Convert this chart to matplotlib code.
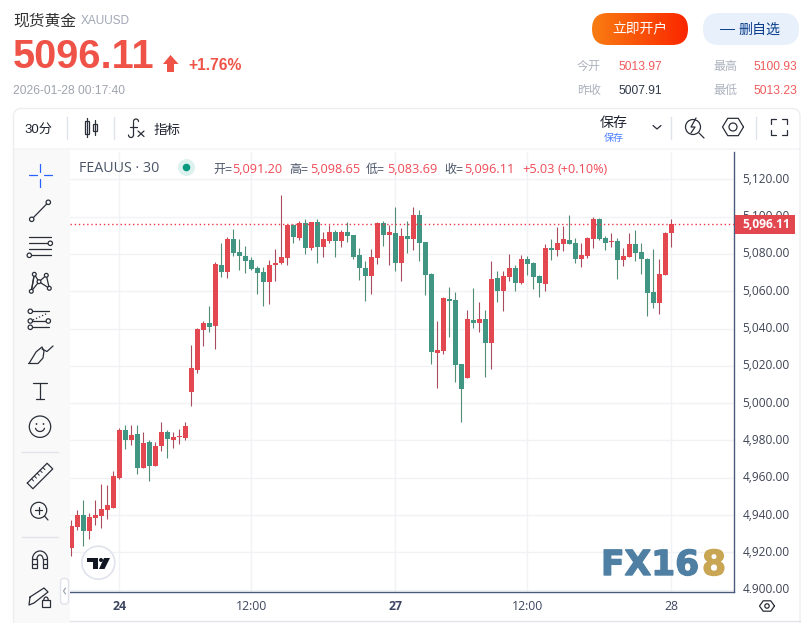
import numpy as np
import matplotlib
matplotlib.use("Agg")
import matplotlib.pyplot as plt
import matplotlib.patheffects as pe
from matplotlib.patches import Circle, FancyBboxPatch, Polygon, Rectangle
from matplotlib.transforms import ScaledTranslation

plt.rcParams['font.family'] = ['Liberation Sans', 'Noto Sans CJK SC', 'DejaVu Sans']

# 30 minute candles
opens = [4922.5, 4933.6, 4940.0, 4931.4, 4938.4, 4939.5, 4942.7, 4943.8, 4959.9, 4985.6,
         4980.3, 4983.5, 4965.2, 4979.2, 4966.3, 4977.0, 4984.5, 4980.3, 4981.9, 4981.3,
         5006.0, 5017.8, 5039.2, 5043.0, 5041.4, 5074.1, 5070.3, 5088.0, 5081.1, 5078.9,
         5076.8, 5072.5, 5070.3, 5065.0, 5074.1, 5075.2, 5077.8, 5095.5, 5088.6, 5096.6,
         5083.2, 5097.2, 5083.7, 5086.9, 5091.8, 5086.9, 5091.8, 5090.2, 5079.4, 5072.5,
         5068.2, 5077.8, 5096.6, 5090.2, 5091.3, 5075.2, 5089.6, 5088.0, 5100.9, 5086.4,
         5069.3, 5026.9, 5027.9, 5055.8, 5055.3, 5021.0, 5013.5, 5044.6, 5043.0, 5045.1,
         5032.2, 5067.1, 5060.1, 5067.6, 5072.5, 5064.4, 5077.3, 5075.2, 5068.2, 5063.9,
         5083.2, 5082.1, 5085.4, 5087.5, 5085.9, 5077.3, 5078.9, 5088.0, 5098.8, 5088.6,
         5086.4, 5086.9, 5076.8, 5078.4, 5085.4, 5081.1, 5077.3, 5059.6, 5053.7, 5068.7, 5091.20]
highs = [4937.3, 4942.7, 4948.1, 4941.1, 4948.1, 4956.6, 4956.1, 4963.6, 4986.7, 4988.3,
         4988.3, 4988.3, 4984.5, 4980.3, 4979.2, 4989.9, 4985.6, 4984.5, 4986.2, 4989.9,
         5031.2, 5040.3, 5044.0, 5052.1, 5075.7, 5085.9, 5089.1, 5093.4, 5088.0, 5084.3,
         5078.4, 5073.5, 5073.0, 5076.8, 5082.7, 5111.6, 5096.1, 5096.1, 5097.7, 5098.8,
         5097.2, 5098.8, 5091.8, 5095.5, 5092.9, 5092.9, 5097.2, 5090.2, 5083.2, 5076.2,
         5082.7, 5097.2, 5097.7, 5095.5, 5105.2, 5093.9, 5097.7, 5105.2, 5103.6, 5086.4,
         5069.8, 5044.0, 5056.9, 5062.3, 5059.6, 5021.0, 5049.9, 5061.7, 5054.2, 5049.9,
         5076.2, 5070.9, 5070.9, 5080.0, 5074.1, 5079.4, 5078.9, 5075.7, 5068.7, 5085.4,
         5088.0, 5094.5, 5095.0, 5100.9, 5088.6, 5085.9, 5089.1, 5099.8, 5099.3, 5089.6,
         5091.3, 5088.6, 5083.2, 5091.3, 5092.9, 5085.9, 5077.8, 5082.7, 5077.3, 5091.8, 5098.65]
lows = [4918.0, 4932.0, 4923.4, 4927.1, 4934.7, 4933.0, 4937.9, 4943.8, 4959.3, 4975.4,
        4977.6, 4962.0, 4965.2, 4958.3, 4966.3, 4974.4, 4970.6, 4976.0, 4978.1, 4980.3,
        4998.5, 5016.4, 5030.6, 5038.2, 5029.0, 5067.6, 5067.1, 5078.9, 5071.4, 5069.8,
        5071.4, 5058.5, 5052.1, 5053.2, 5065.5, 5074.6, 5074.1, 5085.9, 5087.5, 5080.0,
        5082.1, 5075.2, 5078.4, 5085.9, 5078.4, 5083.7, 5086.4, 5077.3, 5066.0, 5054.8,
        5058.5, 5074.6, 5084.3, 5074.1, 5070.9, 5065.5, 5080.5, 5082.1, 5076.2, 5058.0,
        5021.0, 5008.1, 5026.3, 5035.5, 5011.3, 4989.9, 5013.5, 5040.3, 5038.2, 5014.0,
        5018.3, 5054.2, 5049.4, 5065.5, 5060.1, 5063.9, 5068.7, 5061.2, 5056.9, 5060.1,
        5076.8, 5078.9, 5081.6, 5085.4, 5075.2, 5073.0, 5077.8, 5083.2, 5087.5, 5082.1,
        5083.7, 5066.6, 5073.5, 5078.4, 5076.2, 5069.3, 5046.7, 5051.0, 5047.8, 5068.7, 5083.69]
closes = [4934.1, 4940.0, 4931.4, 4939.0, 4940.0, 4943.2, 4945.4, 4960.9, 4985.6, 4980.3,
          4982.9, 4965.2, 4978.6, 4966.3, 4977.0, 4984.5, 4980.8, 4981.9, 4982.4, 4987.8,
          5018.8, 5039.7, 5043.0, 5040.8, 5074.6, 5070.3, 5088.0, 5080.5, 5078.9, 5076.2,
          5071.9, 5069.8, 5065.0, 5074.1, 5075.2, 5078.4, 5095.5, 5089.1, 5096.6, 5083.2,
          5097.2, 5083.7, 5088.0, 5091.8, 5086.9, 5091.8, 5089.6, 5078.4, 5072.5, 5068.2,
          5078.4, 5096.6, 5090.2, 5091.8, 5075.2, 5089.6, 5088.0, 5100.9, 5085.9, 5068.7,
          5027.4, 5028.5, 5056.4, 5054.8, 5020.4, 5007.6, 5045.1, 5043.0, 5045.1, 5032.2,
          5066.6, 5060.1, 5068.2, 5072.5, 5064.4, 5077.3, 5074.6, 5067.6, 5064.4, 5083.2,
          5082.1, 5085.9, 5088.0, 5085.4, 5077.3, 5079.4, 5088.6, 5098.8, 5088.0, 5085.9,
          5086.9, 5076.8, 5078.9, 5085.4, 5080.5, 5077.3, 5059.1, 5053.7, 5069.3, 5091.3, 5096.11]

price_ticks = [5120, 5100, 5080, 5060, 5040, 5020, 5000, 4980, 4960, 4940, 4920, 4900]
time_ticks = [8, 30, 54, 76, 100]
time_labels = ['24', '12:00', '27', '12:00', '28']
bold_labels = ['24', '27']

RED = '#E34850'
GREEN = '#409682'
RED_WICK = '#A94C5E'
GREEN_WICK = '#528E74'
ICON = '#2A2E39'
AXIS = '#4C5A7C'
GRID = '#F1F2F5'
W, H = 812, 623

fig = plt.figure(figsize=(W / 100, H / 100), dpi=100, facecolor='white')

# price pane, placed in pixels
left, right, top, bottom = 70, 734.4, 152, 592.4
ax = fig.add_axes([left / W, 1 - bottom / H, (right - left) / W, (bottom - top) / H])

x = np.arange(len(opens))
o = np.array(opens)
c = np.array(closes)
up = c >= o

ax.vlines(x[up], np.array(lows)[up], np.array(highs)[up], color=RED_WICK, lw=0.8, zorder=3)
ax.vlines(x[~up], np.array(lows)[~up], np.array(highs)[~up], color=GREEN_WICK, lw=0.8, zorder=3)
ax.bar(x[up], (c - o)[up], bottom=o[up], width=0.83, color=RED, lw=0, zorder=4)
ax.bar(x[~up], (o - c)[~up], bottom=c[~up], width=0.83, color=GREEN, lw=0, zorder=4)

# last price dotted line
ax.axhline(closes[-1], color='#F23645', lw=1, ls=(0, (1, 2)), zorder=5)

ax.set_xlim(-0.22, 110.5)
ax.set_ylim(4898.5, 5134.7)
ax.yaxis.tick_right()
ax.set_yticks(price_ticks)
ax.set_yticklabels([f'{p:,.2f}' for p in price_ticks], family=['Open Sans'], fontsize=8.6, color='#3D4454')
ax.set_xticks(time_ticks)
ax.set_xticklabels(time_labels, family=['Open Sans'], fontsize=8.8, color='#3D4660')
for t in ax.get_xticklabels():
    if t.get_text() in bold_labels:
        t.set_fontweight('bold')
ax.tick_params(axis='both', length=0)
ax.tick_params(axis='y', pad=6)
ax.tick_params(axis='x', pad=5.5)
# price labels sit a little above their grid lines
lift = ScaledTranslation(0, 1.5 / 100, fig.dpi_scale_trans)
for t in ax.get_yticklabels():
    t.set_transform(t.get_transform() + lift)
ax.grid(True, color=GRID, lw=1)
ax.set_axisbelow(True)
for s in ['top', 'left']:
    ax.spines[s].set_visible(False)
for s in ['right', 'bottom']:
    ax.spines[s].set_color(AXIS)
    ax.spines[s].set_linewidth(1)

# everything else goes on a full size overlay measured in pixels
ov = fig.add_axes([0, 0, 1, 1], zorder=5)
ov.set_xlim(0, W)
ov.set_ylim(H, 0)
ov.axis('off')


def label(px, py, s, size, color, **kw):
    kw.setdefault('va', 'center')
    return ov.text(px, py + 1.5, s, fontsize=size * 0.72, color=color, **kw)


def pill(x0, y0, x1, y1, rad, **kw):
    p = FancyBboxPatch((x0 + rad, y0 + rad), x1 - x0 - 2 * rad, y1 - y0 - 2 * rad,
                       boxstyle=f'round,pad={rad},rounding_size={rad}', **kw)
    ov.add_patch(p)
    return p


def line(xs, ys, color=ICON, lw=0.9, **kw):
    ov.plot(xs, ys, color=color, lw=lw, solid_capstyle='round', **kw)


def dot(px, py, r=2.2):
    ov.add_patch(Circle((px, py), r, fc='white', ec=ICON, lw=0.9, zorder=6))


# hides the part of the lowest price label under the axis line
ov.add_patch(Rectangle((735, 593), 65, 26, fc='white', ec='none', zorder=1))

# card around the chart and the left tool strip
pill(13.5, 108.5, 800, 640, 8, fc='none', ec='#EDEEF2', lw=1)
ov.add_patch(Rectangle((14, 149), 56, 474, fc='#F9F9F9', ec='none', zorder=0))
ov.add_patch(Rectangle((14, 148), 786, 2, fc='#F6F6F8', ec='none', zorder=0))
ov.plot([70, 800], [620.5, 620.5], color='#E2E4EC', lw=1)

# header
label(13, 20, '现货黄金', 15.8, '#333333')
label(81, 20, 'XAUUSD', 11.8, '#A0A6B6')
label(13, 55.5, '5096.11', 39.8, '#EF5247', fontweight='bold')
ov.add_patch(Polygon([(170.5, 55), (178.5, 64), (174, 64), (174, 72), (167, 72), (167, 64), (163, 64)],
                     fc='#EF5247', ec='none'))
label(188, 64, '+1.76%', 15.6, '#EF5247', fontweight='bold')
label(13, 90, '2026-01-28 00:17:40', 12, '#A0A4AE')

# buttons
btn = pill(592, 13, 688, 45, 16, fc='none', ec='none')
grad = np.linspace(0, 1, 200).reshape(1, -1)
cols = np.zeros((1, 200, 3))
cols[0, :, 0] = 0.976 + (0.984 - 0.976) * grad[0]
cols[0, :, 1] = 0.490 + (0.149 - 0.490) * grad[0]
cols[0, :, 2] = 0.071 + (0.000 - 0.071) * grad[0]
im = ov.imshow(cols, extent=(592, 688, 45, 13), aspect='auto', zorder=1)
im.set_clip_path(btn)
ov.set_xlim(0, W)
ov.set_ylim(H, 0)
label(640, 28, '立即开户', 13.8, 'white', ha='center', zorder=2)
pill(703, 13, 799, 45, 16, fc='#E8F0FC', ec='none')
label(720, 28, '—', 15, '#0A3E8C')
label(738, 28, '删自选', 14, '#0A3E8C')

# quote table
label(577, 65.5, '今开', 12, '#ADB2BD')
label(619, 65.5, '5013.97', 12, '#EF5B5B')
label(713, 65.5, '最高', 12, '#ADB2BD')
label(754, 65.5, '5100.93', 12, '#EF5B5B')
label(577, 89.5, '昨收', 12, '#ADB2BD')
label(619, 89.5, '5007.91', 12, '#2E3847')
label(713, 89.5, '最低', 12, '#ADB2BD')
label(754, 89.5, '5013.23', 12, '#EF5B5B')

# toolbar
label(24, 128, '30分', 13.2, '#1F2430')
for dx in [67.5, 114.5, 671.5, 756.5]:
    ov.plot([dx, dx], [117, 139], color='#E0E3EB', lw=1)
ov.add_patch(Rectangle((85.5, 121), 4, 13, fc='none', ec=ICON, lw=0.9))
line([87.5, 87.5], [118, 137])
ov.add_patch(Rectangle((93.5, 124), 4, 7, fc='none', ec=ICON, lw=0.9))
line([95.5, 95.5], [120, 135])
# the fx button is drawn as strokes so the two glyphs can touch like the icon does
th = np.linspace(0, np.pi, 12)
line(136 + 2.5 * np.cos(th), 121.5 - 2.5 * np.sin(th))
line([133.5, 133.5], [121.5, 135])
line(131 + 2.5 * np.cos(th), 135 + 2.5 * np.sin(th))
line([130.5, 137], [126.5, 126.5])
line([138, 144], [131, 136.5])
line([144, 138], [131, 136.5])
label(154, 128, '指标', 13.5, '#1F2430')
label(600, 122, '保存', 14, '#1F2430')
label(604, 136, '保存', 10, '#4A7DFF')
line([653, 657, 661], [125.5, 129, 125.5])
# quick indicator icon
ov.add_patch(Circle((693, 127), 7.5, fc='none', ec=ICON, lw=0.9))
line([699, 704], [133, 138])
line([696, 691, 695, 691], [118, 127, 127, 133], lw=0.9)
# settings hexagon
ang = np.deg2rad(np.arange(0, 361, 60))
line(733 + 10.5 * np.cos(ang), 127 + 10 * np.sin(ang))
ov.add_patch(Circle((733, 127), 4, fc='none', ec=ICON, lw=0.9))
# full screen corners
for sx, sy in [(771, 119), (787, 119), (771, 135), (787, 135)]:
    ex = 5 if sx < 779 else -5
    ey = 5 if sy < 127 else -5
    line([sx + ex, sx, sx], [sy, sy, sy + ey])

# legend row of the pane
label(79, 166.5, 'FEAUUS · 30', 14.2, '#4A5468', family=['Open Sans'])
ov.add_patch(Circle((186.5, 167.5), 8.5, fc='#DDF2EE', ec='none'))
ov.add_patch(Circle((186.5, 167.5), 3.8, fc='#089981', ec='none'))
ohlc_red = '#EF4B57'
ohlc_grey = '#4A5468'
label(213, 168, '开=', 12, ohlc_grey)
label(232.5, 168, '5,091.20', 12.8, ohlc_red, family=['Open Sans'])
label(289.5, 168, '高=', 12, ohlc_grey)
label(310, 168, '5,098.65', 12.8, ohlc_red, family=['Open Sans'])
label(366, 168, '低=', 12, ohlc_grey)
label(387.5, 168, '5,083.69', 12.8, ohlc_red, family=['Open Sans'])
label(444, 168, '收=', 12, ohlc_grey)
label(464.5, 168, '5,096.11', 12.8, ohlc_red, family=['Open Sans'])
label(522, 168, '+5.03', 12.8, ohlc_red, family=['Open Sans'])
label(557.5, 168, '(+0.10%)', 12.6, ohlc_red, family=['Open Sans'])

# last price tag
ov.add_patch(Rectangle((735, 215), 60, 19, fc='#E2474F', ec='none', zorder=2))
label(742, 223, '5,096.11', 12, 'white', fontweight='bold', family=['Open Sans'], zorder=3)

# axis settings icon, bottom right
line(767 + 7.5 * np.cos(ang), 606 + 6 * np.sin(ang))
ov.add_patch(Circle((767, 606), 2.2, fc='none', ec=ICON, lw=0.9))

# tool strip icons
line([29, 36.7], [175, 175], color='#2962FF')
line([44, 51.7], [175, 175], color='#2962FF')
line([40.3, 40.3], [164, 171.7], color='#2962FF')
line([40.3, 40.3], [179, 186.7], color='#2962FF')

line([31.7, 48.3], [219.3, 202.3])
dot(48.3, 202.3)
dot(31.7, 219.3)

for fy in [237.3, 243.3, 249.3, 255.3]:
    line([29, 51], [fy, fy])
dot(50.3, 243.3)
dot(29.3, 255.3)

pts = [(34.3, 274.3), (46.3, 275.3), (39, 281.7), (31.3, 291.3), (49.3, 288.3)]
for a, b in [(0, 3), (0, 2), (2, 1), (1, 4), (2, 4), (2, 3), (3, 0)]:
    line([pts[a][0], pts[b][0]], [pts[a][1], pts[b][1]])
for p in pts:
    dot(p[0], p[1], 1.9)

line([30, 49.5], [311.3, 311.3])
line([30, 48], [321, 321])
line([30, 49.5], [327.3, 327.3])
line([33, 48], [320, 313], ls=':')
dot(30.3, 311.3)
dot(30.3, 321)
dot(48.3, 321)
dot(30.3, 327.3)

line([29, 36, 42, 44, 43, 38, 29], [363.5, 352, 347, 351, 358, 363.5, 363.5])
line([42, 47, 53], [349, 351.5, 346])

line([33, 47], [383, 383])
line([40, 40], [383, 399])
line([36, 44], [399, 399])

ov.add_patch(Circle((40, 426.7), 10.7, fc='none', ec=ICON, lw=0.9))
ov.add_patch(Circle((36.5, 424), 0.9, fc=ICON, ec='none'))
ov.add_patch(Circle((43.5, 424), 0.9, fc=ICON, ec='none'))
th = np.linspace(0.2, np.pi - 0.2, 20)
line(40 + 4.5 * np.cos(th), 427.5 + 4 * np.sin(th))

ov.plot([22, 58], [451.5, 451.5], color='#E2E4EC', lw=1)
ruler = np.array([[-14, -4], [14, -4], [14, 4], [-14, 4], [-14, -4]])
rot = np.deg2rad(-45)
rx = 40 + ruler[:, 0] * np.cos(rot) - ruler[:, 1] * np.sin(rot)
ry = 476 + ruler[:, 0] * np.sin(rot) + ruler[:, 1] * np.cos(rot)
line(rx, ry)
for d in [-8, -4, 0, 4, 8]:
    line([40 + d * 0.707 - 2.8, 40 + d * 0.707 - 0.7], [476 - d * 0.707 - 2.8, 476 - d * 0.707 - 0.7], lw=0.7)

ov.add_patch(Circle((38.7, 510.3), 8, fc='none', ec=ICON, lw=0.9))
line([44.5, 48], [516, 520])
line([35, 42.5], [510.3, 510.3])
line([38.7, 38.7], [506.5, 514])
ov.plot([22, 58], [536.5, 536.5], color='#E2E4EC', lw=1)

th = np.linspace(np.pi, 2 * np.pi, 20)
line(40 + 7.5 * np.cos(th), 559 + 8 * np.sin(th))
line(40 + 3 * np.cos(th), 559 + 4 * np.sin(th))
for mx in [32.5, 43]:
    ov.add_patch(Rectangle((mx, 559), 4.5, 9, fc='none', ec=ICON, lw=0.9))
    line([mx, mx + 4.5], [564, 564])

line([30, 44, 48, 34, 29, 30], [597, 588, 592, 603, 605, 597])
ov.add_patch(Rectangle((42, 600), 8, 7, fc='none', ec=ICON, lw=0.9))
th = np.linspace(np.pi, 2 * np.pi, 12)
line(46 + 2.2 * np.cos(th), 600 + 3 * np.sin(th))

# collapse handle
pill(60.5, 578.5, 68.5, 604, 3, fc='white', ec='#E0E3EB', lw=1)
line([65.5, 63.5, 65.5], [588, 591, 594], color='#A0A6B6')

# tradingview badge
ov.add_patch(Circle((98.3, 562.7), 16.5, fc='white', ec='#E0E3EB', lw=1.2, zorder=3))
ov.add_patch(Polygon([(87.5, 558), (98, 558), (98, 569), (93, 569), (93, 562), (87.5, 562)], fc='#131722', ec='none', zorder=4))
ov.add_patch(Circle((101, 560), 2, fc='#131722', ec='none', zorder=4))
ov.add_patch(Polygon([(104, 558), (110, 558), (104.5, 569), (99, 569)], fc='#131722', ec='none', zorder=4))

# fx168 watermark
thick = [pe.withStroke(linewidth=1, foreground='#4F80A4')]
label(601, 564, 'FX16', 34.5, '#4F80A4', fontweight='bold', family=['DejaVu Sans'], zorder=7, path_effects=thick)
thick = [pe.withStroke(linewidth=1, foreground='#C9A653')]
label(702, 564, '8', 34.5, '#C9A653', fontweight='bold', family=['DejaVu Sans'], zorder=7, path_effects=thick)

fig.savefig('out.png', dpi=100)
